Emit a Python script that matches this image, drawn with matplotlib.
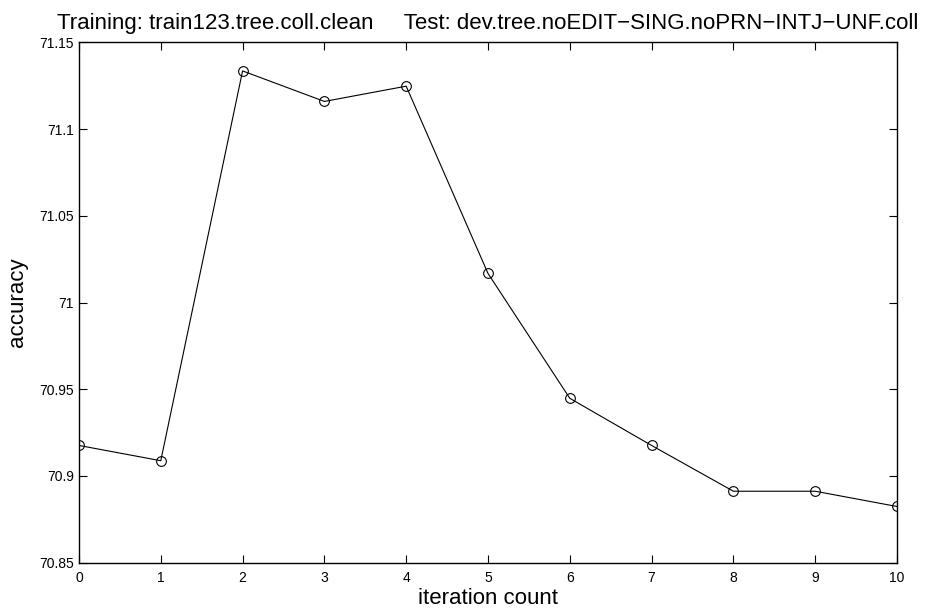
import matplotlib
matplotlib.use("Agg")
import matplotlib.pyplot as plt
from matplotlib.ticker import FuncFormatter

plt.rcParams["font.family"] = ["Liberation Sans", "DejaVu Sans"]

iterations = [0, 1, 2, 3, 4, 5, 6, 7, 8, 9, 10]
accuracy = [70.9176, 70.9088, 71.1336, 71.1160, 71.1248, 71.0168,
            70.9448, 70.9176, 70.8912, 70.8912, 70.8824]
y_ticks = [70.85, 70.9, 70.95, 71, 71.05, 71.1, 71.15]

title = ("Training: train123.tree.coll.clean     "
         "Test: dev.tree.noEDIT\u2212SING.noPRN\u2212INTJ\u2212UNF.coll")

fig = plt.figure(figsize=(9.47, 6.12), dpi=100)
ax = fig.add_axes([0.0834, 0.0806, 0.8638, 0.85])

ax.plot(iterations, accuracy, color="black", linewidth=0.8,
        marker="o", markersize=7, markerfacecolor="none",
        markeredgecolor="black", markeredgewidth=0.8)

ax.set_xlim(0, 10)
ax.set_ylim(70.85, 71.15)
ax.set_xticks(iterations)
ax.set_yticks(y_ticks)
ax.yaxis.set_major_formatter(FuncFormatter(lambda v, p: f"{v:g}"))
ax.tick_params(direction="in", top=True, right=True, length=6, width=0.8,
               labelsize=10, colors="black")
ax.tick_params(axis="y", pad=3.5)
ax.tick_params(axis="x", pad=6)
for s in ax.spines.values():
    s.set_linewidth(1.0)

ax.set_xlabel("iteration count", fontsize=16, labelpad=2)
ax.set_ylabel("accuracy", fontsize=16, labelpad=8)
ax.set_title(title, fontsize=16, pad=10)

fig.savefig("out.png", dpi=100)
